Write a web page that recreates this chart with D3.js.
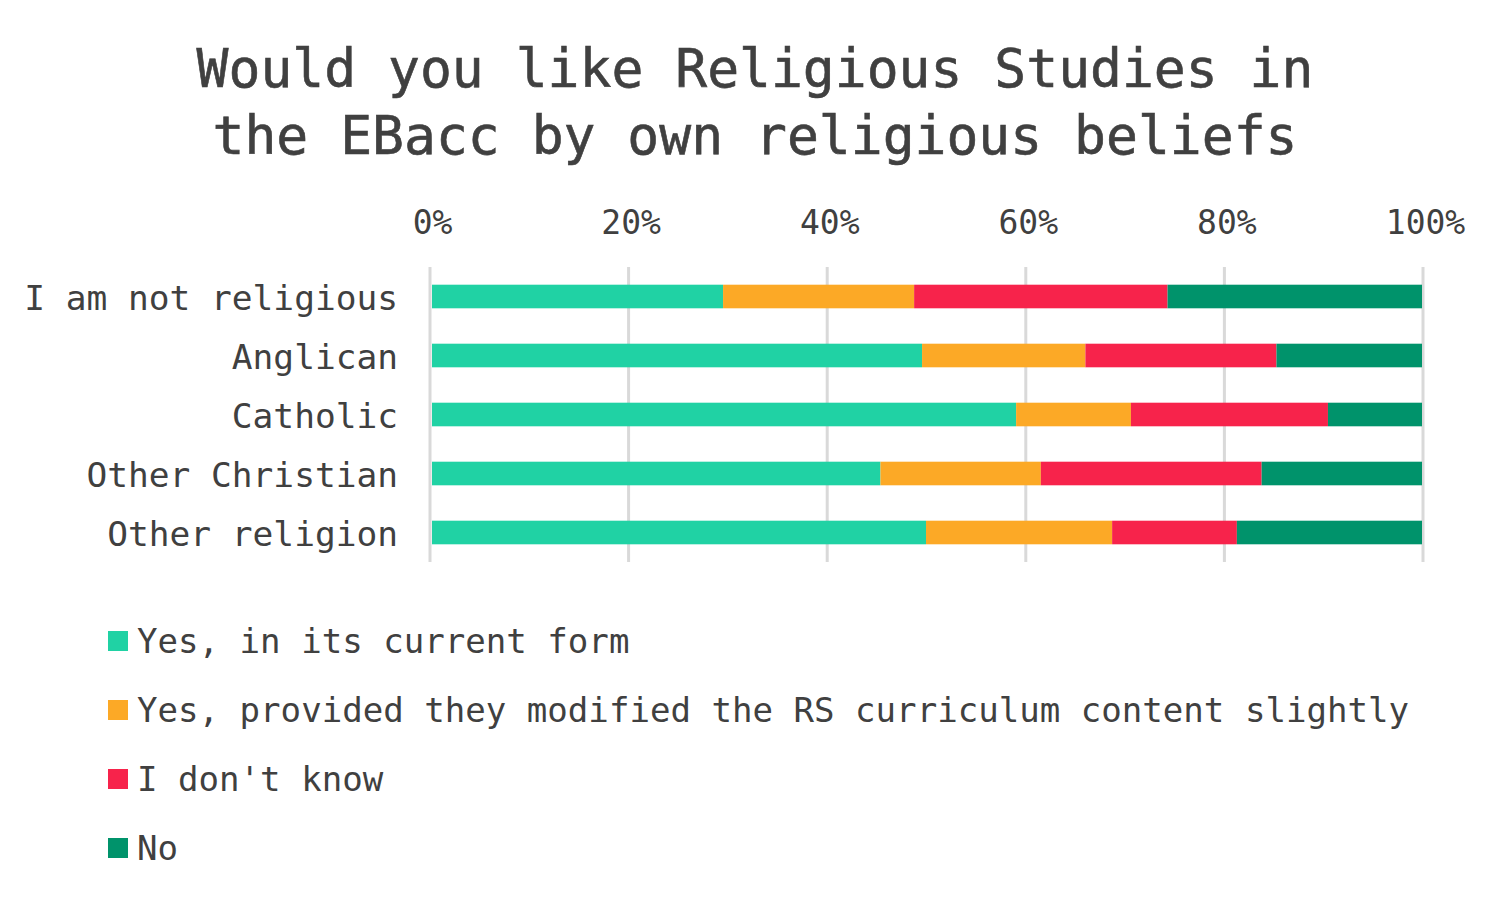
<!DOCTYPE html>
<html>
<head>
<meta charset="utf-8">
<script src="https://cdn.jsdelivr.net/npm/d3@7"></script>
<style>
  body { margin: 0; background: #fff; }
  text { font-family: "DejaVu Sans Mono", "Liberation Mono", monospace; fill: #404040; }
</style>
</head>
<body>
<div id="chart"></div>
<script>
const width = 1510,
    height = 900;

const categories = ["I am not religious", "Anglican", "Catholic", "Other Christian", "Other religion"];
const seriesNames = ["Yes, in its current form", "Yes, provided they modified the RS curriculum content slightly", "I don't know", "No"];
const yesCurrent = [29.4, 49.5, 59.0, 45.3, 49.9];
const yesModified = [19.3, 16.5, 11.6, 16.2, 18.8];
const dontKnow = [25.6, 19.3, 19.9, 22.3, 12.6];
const no = [25.7, 14.7, 9.5, 16.2, 18.7];
const tickValues = [0, 20, 40, 60, 80, 100];
const colors = ["#20d2a4", "#fca926", "#f7234b", "#00936b"];

const svg = d3.select("#chart")
    .append("svg")
    .attr("width", width)
    .attr("height", height);

// title
const title = svg.append("text")
    .attr("text-anchor", "middle")
    .style("font-size", "53px")
    .style("stroke", "#404040")
    .style("stroke-width", 0.6);
title.append("tspan").attr("x", 755).attr("y", 87).text("Would you like Religious Studies in");
title.append("tspan").attr("x", 755).attr("y", 154).text("the EBacc by own religious beliefs");

const rows = categories.map(function(c, i) {
    return { cat: c, s0: yesCurrent[i], s1: yesModified[i], s2: dontKnow[i], s3: no[i] };
});
const stack = d3.stack().keys(["s0", "s1", "s2", "s3"])(rows);

const x = d3.scaleLinear()
    .domain([0, 100])
    .range([430, 1423]);

// bars sit just inside the outer gridlines
const xb = d3.scaleLinear()
    .domain([0, 100])
    .range([432, 1422]);

const y = d3.scaleBand()
    .domain(categories)
    .range([267, 562])
    .paddingInner(0.6)
    .paddingOuter(0.3);

// gridlines
svg.append("g")
    .selectAll("line")
    .data(tickValues)
    .enter()
    .append("line")
    .attr("x1", function(d) { return x(d) })
    .attr("x2", function(d) { return x(d) })
    .attr("y1", 267)
    .attr("y2", 562)
    .attr("stroke", "#d9d9d9")
    .attr("stroke-width", 3);

// top axis labels
const topAxis = d3.axisTop(x)
    .tickValues(tickValues)
    .tickFormat(function(d) { return d + "%" })
    .tickSize(0)
    .tickPadding(0);

const ax = svg.append("g")
    .attr("transform", "translate(2,234)")
    .call(topAxis);
ax.select(".domain").remove();
ax.selectAll("text")
    .style("font-size", "33px")
    .attr("fill", "#404040");

// bars
svg.append("g")
    .selectAll("g")
    .data(stack)
    .enter()
    .append("g")
    .attr("fill", function(d, i) { return colors[i] })
    .selectAll("rect")
    .data(function(d) { return d })
    .enter()
    .append("rect")
    .attr("x", function(d) { return xb(d[0]) })
    .attr("y", function(d) { return y(d.data.cat) })
    .attr("width", function(d) { return xb(d[1]) - xb(d[0]) })
    .attr("height", y.bandwidth());

// category labels
const leftAxis = d3.axisLeft(y).tickSize(0).tickPadding(0);
const ly = svg.append("g")
    .attr("transform", "translate(398,2)")
    .call(leftAxis);
ly.select(".domain").remove();
ly.selectAll("text")
    .style("font-size", "34.5px")
    .attr("fill", "#404040");

// legend
const legend = svg.append("g")
    .selectAll("g")
    .data(seriesNames)
    .enter()
    .append("g")
    .attr("transform", function(d, i) { return "translate(108," + (641 + i * 69) + ")" });

legend.append("rect")
    .attr("x", 0)
    .attr("y", -10)
    .attr("width", 20)
    .attr("height", 20)
    .attr("fill", function(d, i) { return colors[i] });

legend.append("text")
    .attr("x", 29)
    .attr("y", 12)
    .style("font-size", "34.1px")
    .text(function(d) { return d });
</script>
</body>
</html>
